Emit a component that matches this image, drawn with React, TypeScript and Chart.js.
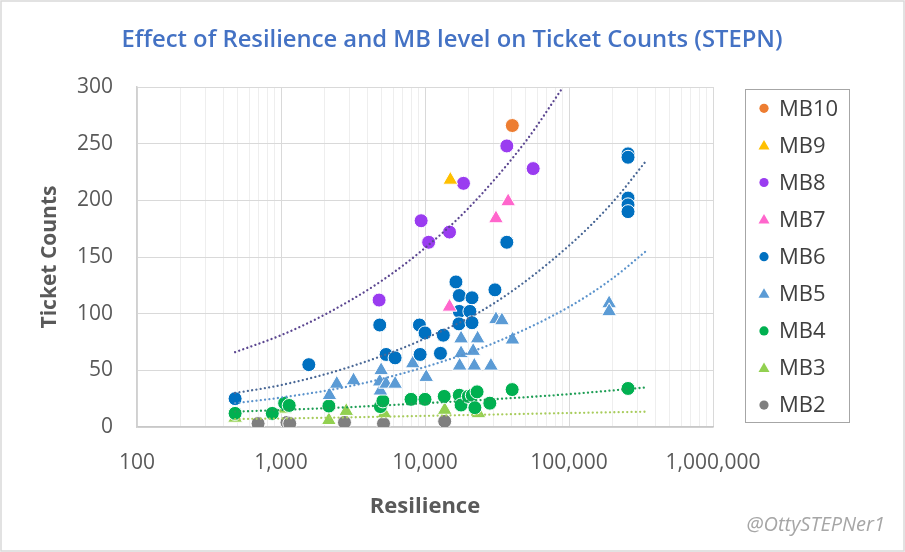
import { useEffect, useRef } from "react";
import { Chart, registerables } from "chart.js";

Chart.register(...registerables);

type Pt = [number, number];

// series order matches the legend (MB10 on top of the list, drawn first)
const seriesNames = ["MB10", "MB9", "MB8", "MB7", "MB6", "MB5", "MB4", "MB3", "MB2"];
const seriesColors = ["#ED7D31", "#FFC000", "#9A3CF0", "#FF66CC", "#0070C0", "#5B9BD5", "#00B050", "#92D050", "#7F7F7F"];
const seriesShapes = ["circle", "triangle", "circle", "triangle", "circle", "triangle", "circle", "triangle", "circle"];

// [resilience, ticket count]
const mb10: Pt[] = [[40400, 266]];
const mb9: Pt[] = [[15000, 218]];
const mb8: Pt[] = [
  [4800, 112], [9400, 182], [10600, 163], [14800, 172], [18500, 215], [37000, 248], [56400, 228],
];
const mb7: Pt[] = [[14800, 106], [31100, 184], [37800, 199]];
const mb6: Pt[] = [
  [480, 25], [1560, 55], [4850, 90], [5370, 64], [6200, 61], [9150, 90], [10000, 83], [9250, 64],
  [13400, 81], [12800, 65], [16400, 128], [17300, 116], [21200, 114], [30600, 121], [17300, 102],
  [20500, 102], [17200, 91], [21200, 92], [37000, 163],
  [257000, 241], [257000, 238], [257000, 202], [257000, 196], [257000, 190],
];
const mb5: Pt[] = [
  [2170, 28], [2440, 38], [3190, 41], [4900, 32], [4850, 40], [4960, 50], [5370, 38], [6200, 38],
  [8220, 56], [10200, 44], [17800, 78], [23200, 78], [17800, 65], [21600, 67], [17400, 54],
  [22000, 54], [28700, 54], [31100, 95], [34200, 94], [40500, 77], [190000, 109], [190000, 102],
];
const mb4: Pt[] = [
  [480, 12], [870, 12], [1060, 21], [1140, 19], [2150, 18.5], [4900, 18], [5100, 23], [8000, 24.4],
  [10000, 24.4], [13600, 27], [17300, 28], [17800, 19.4], [20000, 27], [21300, 28], [23000, 31],
  [22200, 17], [28200, 21], [40300, 33], [257000, 34],
];
const mb3: Pt[] = [[480, 8], [1060, 16], [2150, 6], [2840, 14], [5220, 12], [13700, 15], [23500, 12]];
const mb2: Pt[] = [[693, 3], [1100, 4], [1150, 3], [2760, 4], [5150, 3], [13700, 5]];
const seriesPoints = [mb10, mb9, mb8, mb7, mb6, mb5, mb4, mb3, mb2];

// dotted trend lines
const trendNames = ["MB8", "MB6", "MB5", "MB4", "MB3"];
const trendColors = ["#5B4690", "#4A6896", "#5B93CC", "#1E9E55", "#A8CC5C"];
const mb8Trend: Pt[] = [[480, 66], [1000, 81], [2000, 99], [5000, 129], [10000, 158], [20000, 193], [50000, 252], [91000, 300]];
const mb6Trend: Pt[] = [[480, 30], [1000, 37], [3000, 53], [10000, 78], [30000, 109], [100000, 160], [200000, 198], [349000, 236]];
const mb5Trend: Pt[] = [[480, 21], [1000, 26], [3000, 36], [10000, 53], [30000, 74], [100000, 106], [200000, 131], [349000, 156]];
const mb4Trend: Pt[] = [[480, 13.5], [1000, 15], [3000, 17.5], [10000, 21], [30000, 24.5], [100000, 29], [349000, 35]];
const mb3Trend: Pt[] = [[480, 7], [1000, 7.5], [3000, 8.5], [10000, 9.8], [30000, 11], [100000, 12.3], [349000, 13.5]];
const trendPoints = [mb8Trend, mb6Trend, mb5Trend, mb4Trend, mb3Trend];

const xMajorTicks = [100, 1000, 10000, 100000, 1000000];
const chartTitle = "Effect of Resilience and MB level on Ticket Counts (STEPN)";
const watermark = "@OttySTEPNer1";

const FONT = "'Open Sans', 'Noto Sans', sans-serif";

// minor grid at 2..9 of each decade
const xGridValues: number[] = [];
xMajorTicks.forEach((d, i) => {
  if (i === xMajorTicks.length - 1) {
    xGridValues.push(d);
    return;
  }
  for (let m = 1; m <= 9; m++) xGridValues.push(m * d);
});

const decorPlugin = {
  id: "decor",
  afterDraw(chart: Chart) {
    const ctx = chart.ctx;
    ctx.save();

    // outer frame
    ctx.strokeStyle = "#d9d9d9";
    ctx.lineWidth = 1.5;
    ctx.strokeRect(1, 1, 903, 550);

    // title
    ctx.fillStyle = "#4472C4";
    ctx.font = `600 23.8px ${FONT}`;
    ctx.textAlign = "center";
    ctx.textBaseline = "middle";
    ctx.fillText(chartTitle, 452, 40);

    // legend box
    ctx.strokeStyle = "#a6a6a6";
    ctx.lineWidth = 1;
    ctx.strokeRect(745.5, 89.5, 104, 333);
    ctx.font = `22px ${FONT}`;
    ctx.textAlign = "left";
    seriesNames.forEach((name, i) => {
      const y = 108.3 + i * 37.1;
      ctx.fillStyle = seriesColors[i];
      ctx.beginPath();
      if (seriesShapes[i] === "triangle") {
        ctx.moveTo(764, y - 5.5);
        ctx.lineTo(769.5, y + 4);
        ctx.lineTo(758.5, y + 4);
        ctx.closePath();
      } else {
        ctx.arc(764, y, 4.6, 0, Math.PI * 2);
      }
      ctx.fill();
      ctx.fillStyle = "#404040";
      ctx.fillText(name, 779, y + 1);
    });

    // watermark
    ctx.fillStyle = "#a6a6a6";
    ctx.font = `italic 20px ${FONT}`;
    ctx.textAlign = "right";
    ctx.fillText(watermark, 885, 525);

    ctx.restore();
  },
};

export default function App() {
  const canvasRef = useRef<HTMLCanvasElement>(null);
  const chartRef = useRef<Chart | null>(null);

  useEffect(() => {
    if (!canvasRef.current) return;
    const ctx = canvasRef.current.getContext("2d");
    if (!ctx) return;

    if (chartRef.current) {
      chartRef.current.destroy();
      chartRef.current = null;
    }

    Chart.defaults.font.family = FONT;

    const trendSets = trendNames.map((name, i) => ({
      label: `${name} trend`,
      data: trendPoints[i].map(([x, y]) => ({ x, y })),
      showLine: true,
      pointRadius: 0,
      borderColor: trendColors[i],
      backgroundColor: trendColors[i],
      borderWidth: 2.3,
      borderDash: [0.01, 4.3],
      borderCapStyle: "round" as const,
      cubicInterpolationMode: "monotone" as const,
      fill: false,
      order: 0,
    }));

    const pointSets = seriesNames.map((name, i) => ({
      label: name,
      data: seriesPoints[i].map(([x, y]) => ({ x, y })),
      pointStyle: seriesShapes[i],
      pointRadius: seriesShapes[i] === "triangle" ? 8.6 : 7,
      backgroundColor: seriesColors[i],
      borderColor: "#ffffff",
      borderWidth: 1,
      showLine: false,
      order: 1,
    }));

    chartRef.current = new Chart(ctx, {
      type: "scatter",
      data: { datasets: [...trendSets, ...pointSets] as any },
      options: {
        responsive: false,
        animation: false,
        layout: { padding: { top: 87, right: 192, bottom: 0, left: 0 } },
        plugins: {
          legend: { display: false },
          tooltip: { enabled: false },
          title: { display: false },
        },
        scales: {
          x: {
            type: "logarithmic",
            min: 100,
            max: 1000000,
            afterBuildTicks: (axis: any) => {
              axis.ticks = xGridValues.map((value) => ({ value }));
            },
            afterFit: (axis: any) => {
              axis.height = 125;
            },
            ticks: {
              autoSkip: false,
              maxRotation: 0,
              minRotation: 0,
              padding: 23,
              color: "#595959",
              font: { size: 21 },
              callback: (v: any) =>
                xMajorTicks.includes(Number(v)) ? Number(v).toLocaleString("en-US") : "",
            },
            grid: {
              drawTicks: false,
              color: (c: any) => (xMajorTicks.includes(c.tick?.value) ? "#d9d9d9" : "#eeeeee"),
            },
            border: { color: "#c8c8c8", width: 1.5 },
            title: {
              display: true,
              text: "Resilience",
              color: "#595959",
              font: { size: 22, weight: "bold" },
              padding: 32,
            },
          },
          y: {
            min: 0,
            max: 300,
            afterFit: (axis: any) => {
              axis.width = 137;
            },
            ticks: { stepSize: 50, padding: 24, color: "#595959", font: { size: 21 } },
            grid: { drawTicks: false, color: "#d9d9d9" },
            border: { color: "#d0d0d0", width: 1.5 },
            title: {
              display: true,
              text: "Ticket Counts",
              color: "#595959",
              font: { size: 21, weight: "bold" },
              padding: 37,
            },
          },
        },
      },
      plugins: [decorPlugin],
    });

    return () => {
      if (chartRef.current) {
        chartRef.current.destroy();
        chartRef.current = null;
      }
    };
  }, []);

  return (
    <div style={{ position: "absolute", left: 0, top: 0, width: 905, height: 552, background: "#fff" }}>
      <canvas ref={canvasRef} width={905} height={552} style={{ width: 905, height: 552 }}></canvas>
    </div>
  );
}
